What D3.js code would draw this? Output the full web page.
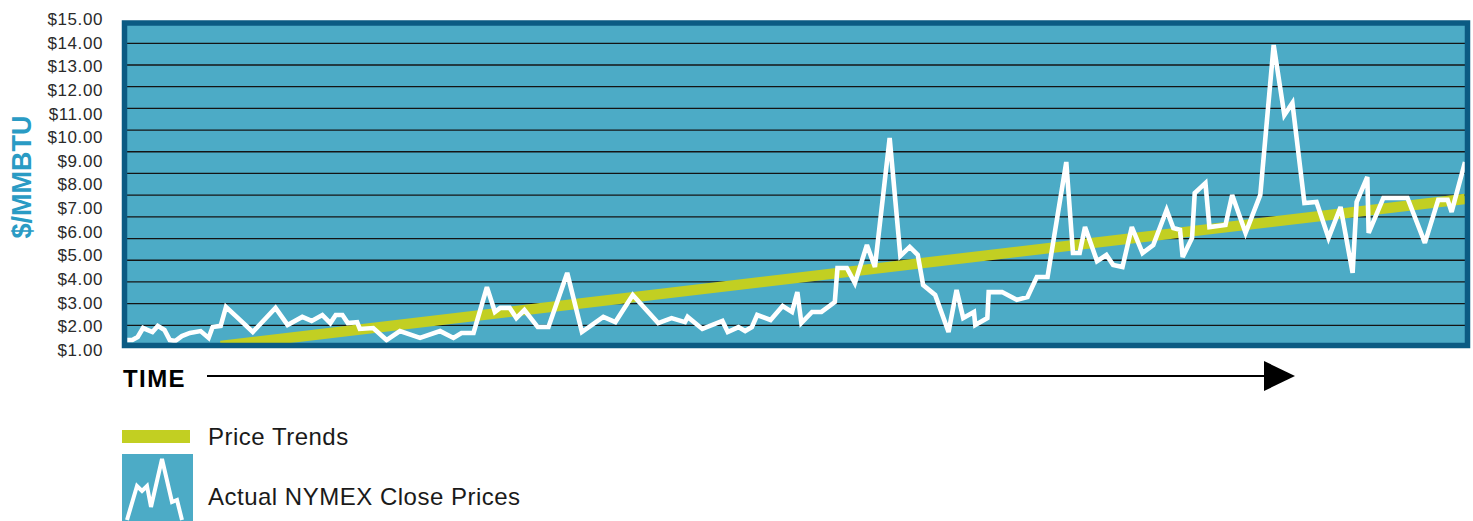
<!DOCTYPE html>
<html>
<head>
<meta charset="utf-8">
<script src="https://cdn.jsdelivr.net/npm/d3@7"></script>
<style>
    body { margin: 0; background: #fff; }
    svg { display: block; font-family: "Liberation Sans", Arial, Helvetica, sans-serif; }
</style>
</head>
<body>
<svg id="chart_svg"></svg>
<script>
"use strict"

// price axis labels
const priceTicks = [1, 2, 3, 4, 5, 6, 7, 8, 9, 10, 11, 12, 13, 14, 15];

// position along the time axis (0 = first close, 100 = last close)
const periods = [
    0.0, 0.4, 0.8, 1.2, 1.9, 2.3, 2.8, 3.2, 3.6, 4.1, 4.7, 5.5, 6.1, 6.4, 7.0, 7.4, 8.2, 9.4, 11.1, 12.0,
    13.1, 13.8, 14.6, 15.2, 15.6, 16.1, 16.5, 17.2, 17.4, 18.4, 19.4, 20.4, 21.9, 23.4, 24.4, 25.0, 25.9, 26.9, 27.5, 27.9,
    28.6, 29.1, 29.7, 30.7, 31.5, 32.9, 34.0, 35.6, 36.5, 37.8, 39.7, 40.7, 41.7, 41.9, 43.0, 44.5, 44.9, 45.7, 46.2, 46.7,
    47.1, 48.1, 49.0, 49.7, 50.1, 50.4, 51.2, 51.9, 52.9, 53.1, 53.8, 54.4, 55.3, 55.9, 57.0, 57.8, 58.5, 59.1, 59.5, 60.4,
    61.4, 62.0, 62.5, 63.3, 63.4, 64.3, 64.4, 65.4, 66.5, 67.3, 68.0, 68.8, 70.2, 70.7, 71.2, 71.6, 72.5, 73.2, 73.7, 74.4,
    75.1, 75.9, 76.7, 77.7, 78.2, 78.7, 78.9, 79.6, 79.8, 80.6, 80.9, 82.1, 82.6, 83.6, 84.7, 85.7, 86.5, 87.1, 88.0, 88.9,
    89.8, 90.7, 91.6, 91.9, 92.7, 92.8, 93.9, 95.7, 97.0, 98.0, 98.7, 99.0, 100.0
];

// NYMEX close, $/MMBTU
const closePrices = [
    1.42, 1.42, 1.55, 1.93, 1.76, 2.02, 1.85, 1.42, 1.38, 1.59, 1.72, 1.80, 1.51, 1.97, 2.02, 2.82, 2.40, 1.76, 2.78, 2.06,
    2.40, 2.23, 2.48, 2.14, 2.48, 2.48, 2.14, 2.18, 1.89, 1.93, 1.42, 1.80, 1.51, 1.80, 1.51, 1.72, 1.72, 3.66, 2.61, 2.78,
    2.78, 2.35, 2.69, 1.97, 1.97, 4.26, 1.76, 2.40, 2.18, 3.33, 2.14, 2.35, 2.18, 2.40, 1.89, 2.23, 1.76, 1.97, 1.80, 1.97,
    2.48, 2.27, 2.86, 2.61, 3.45, 2.14, 2.61, 2.61, 3.03, 4.47, 4.47, 3.83, 5.44, 4.51, 9.97, 4.98, 5.36, 5.02, 3.75, 3.33,
    1.76, 3.54, 2.35, 2.61, 2.06, 2.35, 3.45, 3.45, 3.12, 3.24, 4.09, 4.09, 8.95, 5.10, 5.10, 6.20, 4.76, 5.02, 4.60, 4.51,
    6.20, 5.10, 5.44, 6.92, 6.16, 6.08, 4.93, 5.74, 7.64, 8.06, 6.20, 6.29, 7.56, 5.95, 7.56, 13.90, 10.94, 11.45, 7.22, 7.26,
    5.74, 7.05, 4.26, 7.26, 8.32, 5.95, 7.43, 7.43, 5.53, 7.35, 7.35, 6.84, 8.95
];

// straight price trend, start and end
const trendPeriods = [7.0, 100];
const trendPrices = [1.17, 7.39];

const axisTitle = "$/MMBTU";
const timeLabel = "TIME";
const legendLabels = ["Price Trends", "Actual NYMEX Close Prices"];

// small zigzag drawn inside the legend swatch (relative to the swatch)
const legendGlyph = [[5, 66], [15, 32], [20, 37], [25, 32], [29, 53], [40, 5], [50, 48], [55, 46], [60, 66]];

class PriceTrendChart {
    constructor(svgId) {
        this.svg = d3.select(`#${svgId}`);
        this.width = 1473;
        this.height = 521;
        this.plot = { left: 124.5, top: 23, right: 1467.5, bottom: 345.5 };
        this.colors = {
            plot: "#4cabc6",
            frame: "#0b5b83",
            grid: "#141414",
            trend: "#c2cf22",
            title: "#2a9bc4"
        };
        this.init();
    }

    init() {
        this.svg.attr("width", this.width).attr("height", this.height);

        this.x = d3.scaleLinear().domain([0, 100]).range([127, 1465]);
        // labels and values use this scale
        this.y = d3.scaleLinear().domain([1, 15]).range([350, 19]);
        // horizontal rules split the panel into 15 bands
        this.gridY = d3.scaleLinear().domain([0, 15]).range([347, 21.6]);

        this.drawPanel();
        this.drawSeries();
        this.drawAxes();
        this.drawLegend();
    }

    drawPanel() {
        const p = this.plot;

        this.svg.append("defs").append("clipPath")
            .attr("id", "plot_clip")
            .append("rect")
            .attr("x", p.left + 2.5).attr("y", p.top + 2.5)
            .attr("width", p.right - p.left - 5).attr("height", p.bottom - p.top - 5);

        this.svg.append("rect")
            .attr("x", p.left).attr("y", p.top)
            .attr("width", p.right - p.left).attr("height", p.bottom - p.top)
            .attr("fill", this.colors.plot);

        this.svg.append("g")
            .selectAll("line")
            .data(d3.range(1, 15))
            .enter().append("line")
            .attr("x1", p.left).attr("x2", p.right)
            .attr("y1", d => this.gridY(d)).attr("y2", d => this.gridY(d))
            .attr("stroke", this.colors.grid)
            .attr("stroke-width", 1.3);
    }

    drawSeries() {
        const g = this.svg.append("g").attr("clip-path", "url(#plot_clip)");

        const trend = trendPeriods.map((t, i) => ({ t, v: trendPrices[i] }));
        const closes = periods.map((t, i) => ({ t, v: closePrices[i] }));

        const line = d3.line().x(d => this.x(d.t)).y(d => this.y(d.v));

        g.append("path")
            .datum(trend)
            .attr("d", line)
            .attr("fill", "none")
            .attr("stroke", this.colors.trend)
            .attr("stroke-width", 10.5);

        g.append("path")
            .datum(closes)
            .attr("d", line)
            .attr("fill", "none")
            .attr("stroke", "#fff")
            .attr("stroke-width", 4.6)
            .attr("stroke-linejoin", "miter")
            .attr("stroke-miterlimit", 3);

        // frame on top
        const p = this.plot;
        this.svg.append("rect")
            .attr("x", p.left).attr("y", p.top)
            .attr("width", p.right - p.left).attr("height", p.bottom - p.top)
            .attr("fill", "none")
            .attr("stroke", this.colors.frame)
            .attr("stroke-width", 5.5);
    }

    drawAxes() {
        const axis = this.svg.append("g")
            .attr("transform", "translate(103,0)")
            .call(d3.axisLeft(this.y).tickValues(priceTicks).tickSize(0).tickPadding(0)
                .tickFormat(d3.format("$.2f")));
        axis.select(".domain").remove();
        axis.attr("font-family", null).attr("font-size", null);
        axis.selectAll("text")
            .attr("fill", "#2a2a2a")
            .style("font-size", "17px")
            .style("letter-spacing", "0.6px");

        this.svg.append("text")
            .attr("transform", "translate(31,177) rotate(-90)")
            .attr("text-anchor", "middle")
            .attr("fill", this.colors.title)
            .style("font-size", "27px")
            .style("font-weight", "bold")
            .text(axisTitle);

        // time arrow
        this.svg.append("text")
            .attr("x", 123).attr("y", 387)
            .attr("fill", "#000")
            .style("font-size", "24px")
            .style("font-weight", "bold")
            .style("letter-spacing", "1.4px")
            .text(timeLabel);

        this.svg.append("line")
            .attr("x1", 207).attr("x2", 1266)
            .attr("y1", 376).attr("y2", 376)
            .attr("stroke", "#000")
            .attr("stroke-width", 2);

        this.svg.append("path")
            .attr("d", "M1264,361 L1295,376 L1264,391 Z")
            .attr("fill", "#000");
    }

    drawLegend() {
        const lg = this.svg.append("g");

        lg.append("rect")
            .attr("x", 122).attr("y", 430)
            .attr("width", 68).attr("height", 13)
            .attr("fill", this.colors.trend);

        const swatch = lg.append("g").attr("transform", "translate(122,454)");
        swatch.append("rect")
            .attr("width", 71).attr("height", 67)
            .attr("fill", this.colors.plot);
        swatch.append("path")
            .attr("d", d3.line()(legendGlyph))
            .attr("fill", "none")
            .attr("stroke", "#fff")
            .attr("stroke-width", 4)
            .attr("stroke-miterlimit", 3);

        lg.selectAll(".legend-label")
            .data(legendLabels)
            .enter().append("text")
            .attr("class", "legend-label")
            .attr("x", 208)
            .attr("y", (d, i) => i === 0 ? 445 : 505)
            .attr("fill", "#1a1a1a")
            .style("font-size", "24px")
            .style("letter-spacing", "0.5px")
            .text(d => d);
    }
}

document.addEventListener("DOMContentLoaded", () => {
    new PriceTrendChart("chart_svg");
});
</script>
</body>
</html>
